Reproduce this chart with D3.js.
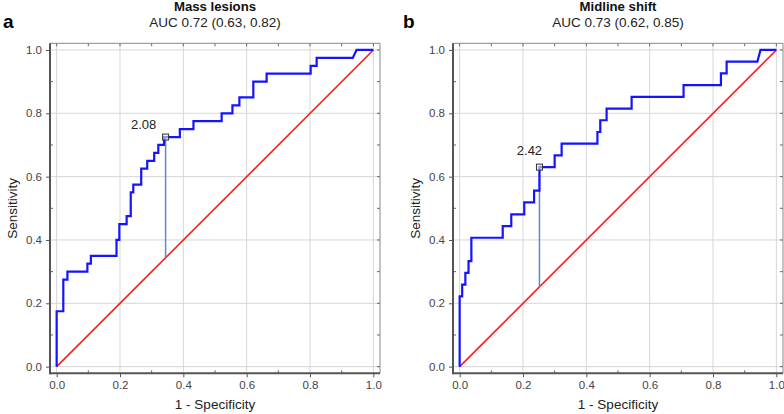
<!DOCTYPE html>
<html><head><meta charset="utf-8">
<script src="https://cdn.jsdelivr.net/npm/d3@7"></script>
<style>body{margin:0;background:#fff;}svg{display:block;font-family:"Liberation Sans",Arial,sans-serif;}</style>
</head><body><svg id="c" width="784" height="414"></svg>
<script>
// ---- data ----
const panelLetters = ["a", "b"];
const panelTitles = ["Mass lesions", "Midline shift"];
const panelSubtitles = ["AUC 0.72 (0.63, 0.82)", "AUC 0.73 (0.62, 0.85)"];
const cutoffLabels = ["2.08", "2.42"];
const cutoffFpr = [0.344, 0.252];
const cutoffTpr = [0.725, 0.630];

// ROC vertices (1 - specificity, sensitivity)
const rocA_fpr = [0, 0, 0.021, 0.021, 0.034, 0.034, 0.097, 0.097, 0.108, 0.108, 0.189, 0.189, 0.198, 0.198, 0.221, 0.221, 0.234, 0.234, 0.242, 0.242, 0.267, 0.267, 0.286, 0.286, 0.308, 0.308, 0.321, 0.321, 0.339, 0.339, 0.389, 0.389, 0.432, 0.432, 0.521, 0.521, 0.555, 0.555, 0.577, 0.577, 0.621, 0.621, 0.663, 0.663, 0.802, 0.802, 0.821, 0.821, 0.935, 0.947, 1.0];
const rocA_tpr = [0, 0.175, 0.175, 0.275, 0.275, 0.300, 0.300, 0.325, 0.325, 0.350, 0.350, 0.400, 0.400, 0.450, 0.450, 0.475, 0.475, 0.550, 0.550, 0.575, 0.575, 0.625, 0.625, 0.650, 0.650, 0.675, 0.675, 0.700, 0.700, 0.725, 0.725, 0.750, 0.750, 0.775, 0.775, 0.800, 0.800, 0.825, 0.825, 0.850, 0.850, 0.900, 0.900, 0.925, 0.925, 0.950, 0.950, 0.975, 0.975, 1.0, 1.0];
const rocB_fpr = [0, 0, 0.008, 0.008, 0.018, 0.018, 0.028, 0.028, 0.037, 0.037, 0.136, 0.136, 0.163, 0.163, 0.204, 0.204, 0.235, 0.235, 0.252, 0.252, 0.300, 0.300, 0.322, 0.322, 0.435, 0.435, 0.444, 0.444, 0.464, 0.464, 0.543, 0.543, 0.707, 0.707, 0.825, 0.825, 0.843, 0.843, 0.940, 0.950, 1.0];
const rocB_tpr = [0, 0.222, 0.222, 0.259, 0.259, 0.296, 0.296, 0.333, 0.333, 0.407, 0.407, 0.444, 0.444, 0.481, 0.481, 0.519, 0.519, 0.556, 0.556, 0.630, 0.630, 0.667, 0.667, 0.704, 0.704, 0.741, 0.741, 0.778, 0.778, 0.815, 0.815, 0.852, 0.852, 0.889, 0.889, 0.926, 0.926, 0.963, 0.963, 1.0, 1.0];
const rocFpr = [rocA_fpr, rocB_fpr];
const rocTpr = [rocA_tpr, rocB_tpr];
const refLine = [0, 1];
const majorTicks = [0, 0.2, 0.4, 0.6, 0.8, 1.0];
const minorTicks = [0.1, 0.3, 0.5, 0.7, 0.9];
const xTitle = "1 - Specificity";
const yTitle = "Sensitivity";

// ---- layout ----
const panels = [
  {x0: 50, x1: 380, letterX: 3, labelDx: -22, labelDy: -8},
  {x0: 453, x1: 783, letterX: 403, labelDx: -10, labelDy: -12}
];
const yTop = 43.3, yBot = 373.3;
const svg = d3.select("#c");

panels.forEach((p, i) => {
  const x = d3.scaleLinear().domain([-0.021, 1.021]).range([p.x0, p.x1]);
  const y = d3.scaleLinear().domain([-0.021, 1.021]).range([yBot, yTop]);
  const g = svg.append("g");
  const cx = (p.x0 + p.x1) / 2;

  // grid
  g.selectAll(".gx").data(majorTicks).join("line")
    .attr("x1", d => x(d)).attr("x2", d => x(d)).attr("y1", yTop).attr("y2", yBot)
    .attr("stroke", "#d6d6d6").attr("stroke-width", 1);
  g.selectAll(".gy").data(majorTicks).join("line")
    .attr("y1", d => y(d)).attr("y2", d => y(d)).attr("x1", p.x0).attr("x2", p.x1)
    .attr("stroke", "#d6d6d6").attr("stroke-width", 1);

  // axes with d3
  const fmt = d3.format(".1f");
  const xAx = g.append("g").attr("transform", `translate(0,${yBot})`)
    .call(d3.axisBottom(x).tickValues(majorTicks).tickFormat(fmt).tickSize(4).tickPadding(4));
  const yAx = g.append("g").attr("transform", `translate(${p.x0},0)`)
    .call(d3.axisLeft(y).tickValues(majorTicks).tickFormat(fmt).tickSize(4).tickPadding(4));
  [xAx, yAx].forEach(a => {
    a.select(".domain").remove();
    a.selectAll("line").attr("stroke", "#555");
    a.selectAll("text").attr("fill", "#444").attr("font-size", 11.5).attr("font-family", "Liberation Sans, Arial, sans-serif");
  });
  // top/right ticks and minor ticks (inward)
  const tk = g.append("g").attr("stroke", "#666").attr("stroke-width", 1);
  majorTicks.concat(minorTicks).forEach(t => {
    tk.append("line").attr("x1", x(t)).attr("x2", x(t)).attr("y1", yTop).attr("y2", yTop + 3);
    tk.append("line").attr("x1", p.x1).attr("x2", p.x1 - 3).attr("y1", y(t)).attr("y2", y(t));
  });
  minorTicks.forEach(t => {
    tk.append("line").attr("x1", x(t)).attr("x2", x(t)).attr("y1", yBot).attr("y2", yBot - 3);
    tk.append("line").attr("x1", p.x0).attr("x2", p.x0 + 3).attr("y1", y(t)).attr("y2", y(t));
  });

  // frame
  g.append("line").attr("x1", p.x0).attr("x2", p.x1).attr("y1", yTop).attr("y2", yTop).attr("stroke", "#888").attr("stroke-width", 1);
  g.append("line").attr("x1", p.x1).attr("x2", p.x1).attr("y1", yTop).attr("y2", yBot).attr("stroke", "#888").attr("stroke-width", 1);
  g.append("line").attr("x1", p.x0).attr("x2", p.x0).attr("y1", yTop).attr("y2", yBot + 1).attr("stroke", "#555").attr("stroke-width", 2);
  g.append("line").attr("x1", p.x0 - 1).attr("x2", p.x1).attr("y1", yBot).attr("y2", yBot).attr("stroke", "#555").attr("stroke-width", 2);

  // reference diagonal
  g.append("path").datum(refLine)
    .attr("d", d3.line().x(d => x(d)).y(d => y(d)))
    .attr("stroke", "#ff1a1a").attr("stroke-width", 1.6).attr("fill", "none");

  // cutoff vertical
  g.append("line")
    .attr("x1", x(cutoffFpr[i])).attr("x2", x(cutoffFpr[i]))
    .attr("y1", y(cutoffFpr[i])).attr("y2", y(cutoffTpr[i]))
    .attr("stroke", "#5a8ad0").attr("stroke-width", 1.5);

  // ROC curve
  const pts = rocFpr[i].map((f, k) => [f, rocTpr[i][k]]);
  g.append("path").datum(pts)
    .attr("d", d3.line().x(d => x(d[0])).y(d => y(d[1])))
    .attr("stroke", "#1414ff").attr("stroke-width", 2.2).attr("fill", "none")
    .attr("stroke-linejoin", "miter");

  // marker
  g.append("rect")
    .attr("x", x(cutoffFpr[i]) - 3).attr("y", y(cutoffTpr[i]) - 3)
    .attr("width", 6).attr("height", 6)
    .attr("fill", "#e8e8e8").attr("fill-opacity", 0.6).attr("stroke", "#333").attr("stroke-width", 1);
  g.append("text")
    .attr("x", x(cutoffFpr[i]) + p.labelDx).attr("y", y(cutoffTpr[i]) + p.labelDy)
    .attr("text-anchor", "middle").attr("font-size", 13).attr("fill", "#222")
    .text(cutoffLabels[i]);

  // titles
  g.append("text").attr("x", cx).attr("y", 11).attr("text-anchor", "middle")
    .attr("font-weight", "bold").attr("font-size", 13.2).attr("fill", "#111").text(panelTitles[i]);
  g.append("text").attr("x", cx).attr("y", 27).attr("text-anchor", "middle")
    .attr("font-size", 13.5).attr("fill", "#222").text(panelSubtitles[i]);
  g.append("text").attr("x", p.letterX).attr("y", 28)
    .attr("font-weight", "bold").attr("font-size", 19).attr("fill", "#000").text(panelLetters[i]);

  // axis titles
  g.append("text").attr("x", cx).attr("y", 409).attr("text-anchor", "middle")
    .attr("font-size", 13.5).attr("fill", "#222").text(xTitle);
  g.append("text").attr("transform", `translate(${p.x0 - 33},${(yTop + yBot) / 2}) rotate(-90)`)
    .attr("text-anchor", "middle").attr("font-size", 13.5).attr("fill", "#222").text(yTitle);
});
</script>
</body></html>
